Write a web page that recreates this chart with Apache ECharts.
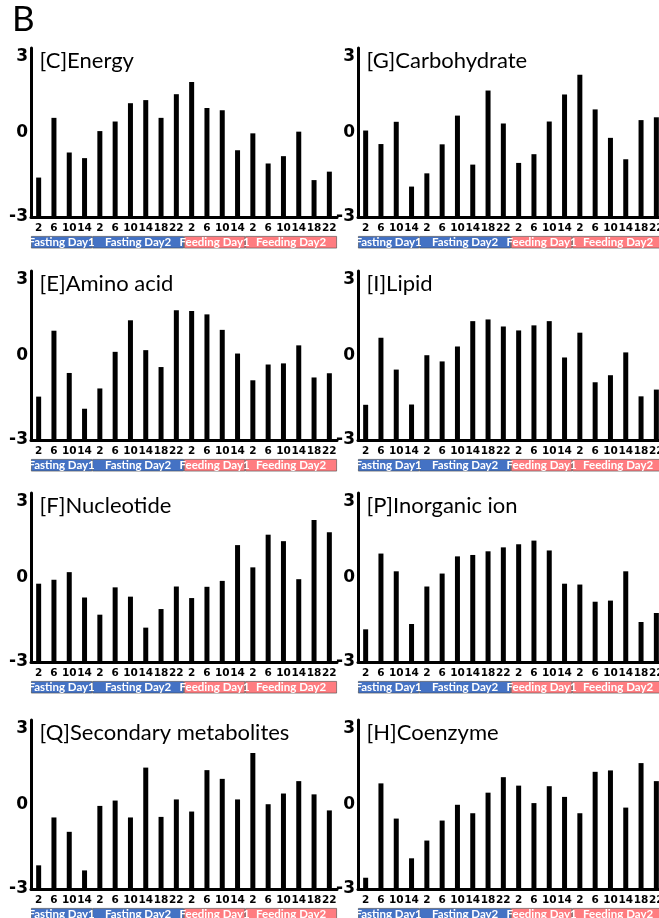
<!DOCTYPE html>
<html>
<head>
<meta charset="utf-8">
<script src="https://cdn.jsdelivr.net/npm/echarts@6/dist/echarts.min.js"></script>
<style>
html, body { margin: 0; padding: 0; overflow: hidden; background: #fff; }
#chart { width: 680px; height: 918px; }
</style>
</head>
<body>
<div id="chart"></div>
<script>
// ---- Data ----
const hours = ['2','6','10','14','2','6','10','14','18','22','2','6','10','14','2','6','10','14','18','22'];
const phaseNames = ['Fasting Day1', 'Fasting Day2', 'Feeding Day1', 'Feeding Day2'];
const phaseLengths = [4, 6, 4, 6];
const phaseColors = ['#4472C4', '#4472C4', '#FF7C80', '#FF7C80'];

const energy       = [-1.60, 0.52, -0.71, -0.91, 0.05, 0.39, 1.04, 1.15, 0.52, 1.36, 1.79, 0.87, 0.79, -0.63, -0.03, -1.10, -0.84, 0.03, -1.69, -1.39];
const carbohydrate = [0.07, -0.41, 0.38, -1.92, -1.45, -0.42, 0.60, -1.14, 1.49, 0.32, -1.08, -0.77, 0.39, 1.35, 2.05, 0.82, -0.19, -0.95, 0.44, 0.54];
const aminoAcid    = [-1.46, 0.88, -0.62, -1.89, -1.17, 0.13, 1.25, 0.19, -0.41, 1.61, 1.58, 1.46, 0.91, 0.07, -0.88, -0.32, -0.28, 0.36, -0.78, -0.63];
const lipid        = [-1.75, 0.63, -0.50, -1.74, 0.01, -0.21, 0.32, 1.22, 1.28, 1.03, 0.89, 1.07, 1.22, -0.07, 0.81, -0.95, -0.70, 0.11, -1.45, -1.21];
const nucleotide   = [-0.22, -0.08, 0.19, -0.71, -1.32, -0.35, -0.68, -1.78, -1.12, -0.32, -0.73, -0.33, -0.12, 1.15, 0.36, 1.52, 1.29, -0.06, 2.04, 1.61];
const inorganicIon = [-1.84, 0.85, 0.22, -1.65, -0.32, 0.14, 0.75, 0.80, 0.93, 1.07, 1.18, 1.31, 0.96, -0.22, -0.25, -0.86, -0.82, 0.22, -1.58, -1.26];
const secondary    = [-2.16, -0.46, -0.97, -2.34, -0.05, 0.14, -0.46, 1.31, -0.44, 0.18, -0.25, 1.22, 0.91, 0.18, 1.83, 0.01, 0.39, 0.83, 0.36, -0.21];
const coenzyme     = [-2.60, 0.75, -0.50, -1.91, -1.28, -0.57, -0.01, -0.31, 0.42, 0.97, 0.67, 0.05, 0.65, 0.27, -0.31, 1.16, 1.21, -0.11, 1.47, 0.83];

const panelTitles = ['[C]Energy', '[G]Carbohydrate', '[E]Amino acid', '[I]Lipid',
                     '[F]Nucleotide', '[P]Inorganic ion', '[Q]Secondary metabolites', '[H]Coenzyme'];
const panelData = [energy, carbohydrate, aminoAcid, lipid, nucleotide, inorganicIon, secondary, coenzyme];

// ---- Layout ----
const colLeft = [31, 358];
const rowTop = [48, 271, 493, 720];
const gridW = 306;
const gridH = 169;
const bandGap = 19;
const bandH = 12.5;

const grids = [], xAxes = [], yAxes = [], series = [];
const titles = [{
  text: 'B', left: 12, top: 2, padding: 0,
  textStyle: { fontFamily: 'Lato', fontSize: 35, fontWeight: 'normal', color: '#000' }
}];

panelData.forEach((vals, i) => {
  const col = i % 2, row = Math.floor(i / 2);
  const left = colLeft[col], top = rowTop[row];
  const gi = grids.length;
  grids.push({ left: left, top: top, width: gridW, height: gridH, containLabel: false, outerBoundsMode: 'none' });
  xAxes.push({
    type: 'category', gridIndex: gi, data: hours, boundaryGap: true,
    axisLine: { show: true, onZero: false, lineStyle: { color: '#000', width: 3 } },
    axisTick: { show: false },
    axisLabel: { interval: 0, margin: 6, color: '#000', fontFamily: 'DejaVu Sans', fontWeight: 'bold', fontSize: 10.5, overflow: 'none', width: 30 }
  });
  yAxes.push({
    type: 'value', gridIndex: gi, min: -3, max: 3, interval: 3, startValue: -3,
    axisLine: { show: true, lineStyle: { color: '#000', width: 3 } },
    axisTick: { show: false },
    splitLine: { show: false },
    axisLabel: {
      show: true, margin: 3, fontFamily: 'DejaVu Sans', fontWeight: 'bold', fontSize: 17,
      color: '#000', overflow: 'none', width: 60,
      verticalAlignMaxLabel: 'top', verticalAlignMinLabel: 'middle'
    }
  });
  series.push({
    type: 'bar', xAxisIndex: gi, yAxisIndex: gi, data: vals, barWidth: 5,
    itemStyle: { color: '#000' }, silent: true
  });
  titles.push({
    text: panelTitles[i], left: left + 8.5, top: top + 2, padding: 0,
    textStyle: { fontFamily: 'Lato', fontSize: 22, fontWeight: 'normal', color: '#000' }
  });

  // phase band under the axis
  const bi = grids.length;
  grids.push({ left: left, top: top + gridH + bandGap, width: gridW, height: bandH, containLabel: false, outerBoundsMode: 'none' });
  xAxes.push({ type: 'value', gridIndex: bi, min: 0, max: hours.length, show: false });
  yAxes.push({ type: 'category', gridIndex: bi, data: ['phase'], show: false });
  phaseNames.forEach((name, p) => {
    series.push({
      type: 'bar', xAxisIndex: bi, yAxisIndex: bi, stack: 'band' + i, barWidth: '100%',
      data: [phaseLengths[p]], silent: true,
      itemStyle: { color: phaseColors[p], borderColor: 'rgba(60,60,60,0.7)', borderWidth: 0.8 },
      label: { show: true, position: 'inside', formatter: name, color: '#fff',
               fontFamily: 'Lato', fontSize: 11.5, fontWeight: 'bold', overflow: 'none' }
    });
  });
});

const chart = echarts.init(document.getElementById('chart'), null, { renderer: 'canvas' });
chart.setOption({
  animation: false,
  title: titles,
  grid: grids,
  xAxis: xAxes,
  yAxis: yAxes,
  series: series
});
</script>
</body>
</html>
